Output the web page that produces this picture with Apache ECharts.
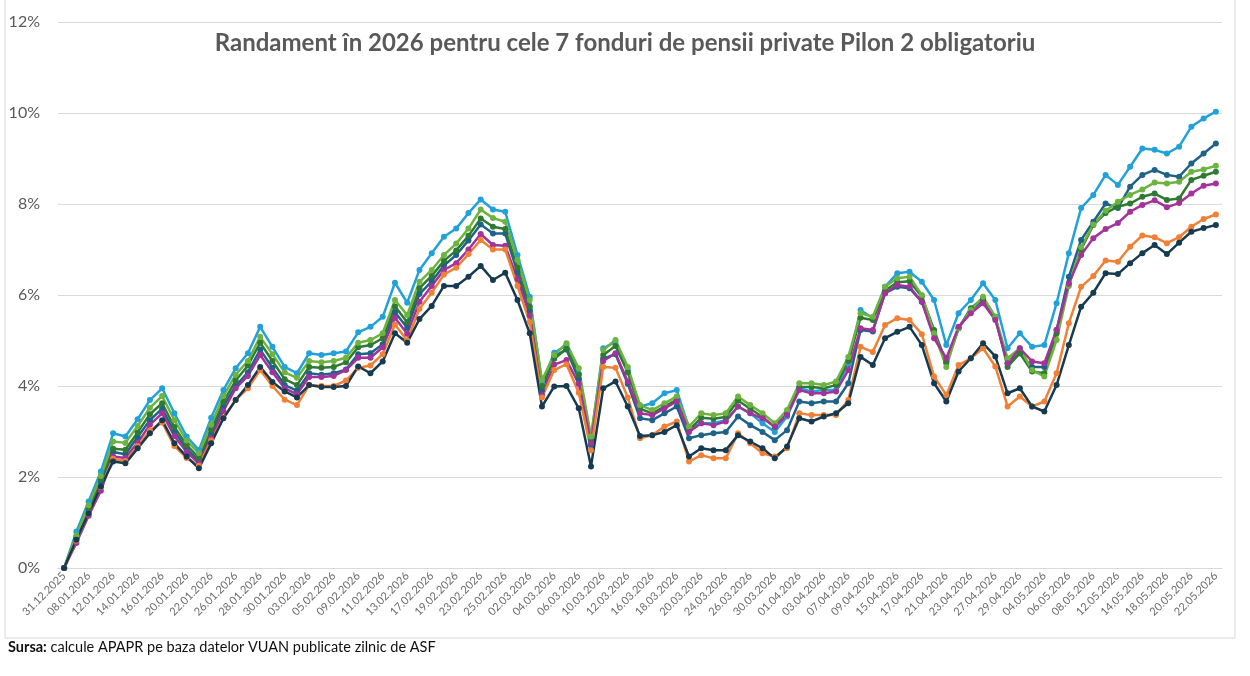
<!DOCTYPE html>
<html>
<head>
<meta charset="utf-8">
<script src="https://cdn.jsdelivr.net/npm/echarts@6/dist/echarts.min.js"></script>
<style>
  html, body { margin: 0; padding: 0; background: #fff; }
  #chart { width: 1250px; height: 676px; }
</style>
</head>
<body>
<div id="chart"></div>
<script>
// zile de raportare (etichetele apar din doua in doua)
const dates = [
  '31.12.2025','05.01.2026','08.01.2026','09.01.2026','12.01.2026','13.01.2026','14.01.2026','15.01.2026',
  '16.01.2026','19.01.2026','20.01.2026','21.01.2026','22.01.2026','23.01.2026','26.01.2026','27.01.2026',
  '28.01.2026','29.01.2026','30.01.2026','02.02.2026','03.02.2026','04.02.2026','05.02.2026','06.02.2026',
  '09.02.2026','10.02.2026','11.02.2026','12.02.2026','13.02.2026','16.02.2026','17.02.2026','18.02.2026',
  '19.02.2026','20.02.2026','23.02.2026','24.02.2026','25.02.2026','27.02.2026','02.03.2026','03.03.2026',
  '04.03.2026','05.03.2026','06.03.2026','09.03.2026','10.03.2026','11.03.2026','12.03.2026','13.03.2026',
  '16.03.2026','17.03.2026','18.03.2026','19.03.2026','20.03.2026','23.03.2026','24.03.2026','25.03.2026',
  '26.03.2026','27.03.2026','30.03.2026','31.03.2026','01.04.2026','02.04.2026','03.04.2026','06.04.2026',
  '07.04.2026','08.04.2026','09.04.2026','14.04.2026','15.04.2026','16.04.2026','17.04.2026','20.04.2026',
  '21.04.2026','22.04.2026','23.04.2026','24.04.2026','27.04.2026','28.04.2026','29.04.2026','30.04.2026',
  '04.05.2026','05.05.2026','06.05.2026','07.05.2026','08.05.2026','11.05.2026','12.05.2026','13.05.2026',
  '14.05.2026','15.05.2026','18.05.2026','19.05.2026','20.05.2026','21.05.2026','22.05.2026'
];

// randament cumulat, %
const lightBlue = [
  0, 0.80, 1.46, 2.12, 2.96, 2.89, 3.27, 3.69, 3.95, 3.40, 2.89, 2.59, 3.30, 3.91, 4.39, 4.72, 5.30, 4.86, 4.42, 4.28, 4.72, 4.68, 4.72, 4.76,
  5.18, 5.30, 5.52, 6.27, 5.83, 6.55, 6.92, 7.28, 7.46, 7.80, 8.10, 7.88, 7.83, 6.88, 5.96, 4.06, 4.73, 4.90, 4.27, 2.85, 4.83, 4.97, 4.35, 3.55,
  3.62, 3.84, 3.91, 3.07, 3.18, 3.18, 3.25, 3.55, 3.40, 3.18, 2.99, 3.33, 3.95, 3.88, 3.91, 3.91, 4.50, 5.67, 5.49, 6.18, 6.48, 6.51, 6.29,
  5.89, 4.90, 5.60, 5.89, 6.26, 5.89, 4.83, 5.16, 4.86, 4.90, 5.82, 6.92, 7.91, 8.20, 8.64, 8.42, 8.82, 9.22, 9.19, 9.11, 9.26, 9.70, 9.88, 10.03
];
const steelBlue = [
  0, 0.66, 1.28, 1.90, 2.55, 2.50, 2.88, 3.25, 3.50, 3.00, 2.62, 2.35, 2.95, 3.55, 4.00, 4.30, 4.80, 4.40, 4.02, 3.90, 4.28, 4.25, 4.28, 4.36,
  4.70, 4.72, 4.92, 5.62, 5.28, 6.02, 6.30, 6.65, 6.88, 7.20, 7.55, 7.35, 7.35, 6.50, 5.65, 3.90, 4.65, 4.80, 4.15, 2.70, 4.60, 4.70, 4.05, 3.29,
  3.25, 3.40, 3.55, 2.85, 2.92, 2.96, 2.99, 3.33, 3.14, 2.99, 2.81, 3.03, 3.66, 3.62, 3.66, 3.66, 4.06, 5.23, 5.20, 6.04, 6.18, 6.15, 5.85,
  5.16, 4.54, 5.27, 5.67, 5.89, 5.49, 4.50, 4.72, 4.42, 4.42, 5.23, 6.40, 7.21, 7.61, 8.01, 7.91, 8.38, 8.64, 8.75, 8.64, 8.60, 8.89, 9.11, 9.33
];
const darkGreen = [
  0, 0.68, 1.32, 1.95, 2.62, 2.60, 2.98, 3.38, 3.62, 3.10, 2.70, 2.42, 3.05, 3.65, 4.12, 4.45, 4.95, 4.55, 4.15, 4.02, 4.42, 4.40, 4.42, 4.52,
  4.85, 4.90, 5.05, 5.75, 5.40, 6.15, 6.42, 6.75, 6.98, 7.30, 7.68, 7.50, 7.45, 6.60, 5.75, 4.00, 4.60, 4.82, 4.25, 2.80, 4.68, 4.88, 4.30, 3.50,
  3.40, 3.55, 3.70, 3.03, 3.30, 3.28, 3.32, 3.68, 3.50, 3.32, 3.10, 3.40, 3.98, 3.98, 3.95, 4.02, 4.55, 5.50, 5.45, 6.10, 6.28, 6.30, 5.97,
  5.23, 4.50, 5.27, 5.71, 5.93, 5.52, 4.42, 4.72, 4.32, 4.28, 5.16, 6.25, 7.00, 7.54, 7.80, 7.94, 8.01, 8.16, 8.23, 8.09, 8.12, 8.53, 8.62, 8.71
];
const lightGreen = [
  0, 0.72, 1.38, 2.02, 2.78, 2.75, 3.12, 3.52, 3.78, 3.25, 2.80, 2.52, 3.15, 3.78, 4.25, 4.55, 5.08, 4.70, 4.30, 4.18, 4.55, 4.52, 4.55, 4.62,
  4.95, 5.01, 5.16, 5.89, 5.56, 6.29, 6.55, 6.88, 7.13, 7.46, 7.88, 7.69, 7.61, 6.77, 5.89, 4.13, 4.68, 4.94, 4.39, 2.89, 4.79, 5.01, 4.42, 3.58,
  3.47, 3.62, 3.77, 3.11, 3.40, 3.36, 3.40, 3.77, 3.58, 3.40, 3.18, 3.47, 4.06, 4.06, 4.02, 4.10, 4.64, 5.60, 5.52, 6.18, 6.37, 6.40, 6.00,
  5.16, 4.42, 5.27, 5.67, 5.96, 5.52, 4.61, 4.83, 4.35, 4.21, 5.01, 6.20, 7.05, 7.55, 7.85, 8.05, 8.20, 8.32, 8.47, 8.45, 8.49, 8.71, 8.76, 8.84
];
const magenta = [
  0, 0.55, 1.15, 1.70, 2.45, 2.42, 2.75, 3.15, 3.40, 2.90, 2.55, 2.30, 2.85, 3.45, 3.95, 4.22, 4.68, 4.30, 3.95, 3.82, 4.20, 4.20, 4.22, 4.35,
  4.62, 4.62, 4.85, 5.50, 5.15, 5.85, 6.20, 6.55, 6.70, 7.00, 7.34, 7.10, 7.08, 6.35, 5.55, 3.80, 4.47, 4.57, 4.05, 2.74, 4.55, 4.72, 4.10, 3.40,
  3.36, 3.51, 3.66, 2.99, 3.18, 3.14, 3.22, 3.55, 3.40, 3.29, 3.11, 3.36, 3.91, 3.84, 3.84, 3.88, 4.35, 5.27, 5.23, 6.04, 6.22, 6.18, 5.85,
  5.05, 4.61, 5.30, 5.60, 5.82, 5.45, 4.50, 4.83, 4.54, 4.50, 5.23, 6.25, 6.88, 7.25, 7.45, 7.58, 7.83, 7.98, 8.08, 7.93, 8.02, 8.23, 8.40, 8.45
];
const orange = [
  0, 0.60, 1.20, 1.78, 2.40, 2.35, 2.68, 3.02, 3.20, 2.68, 2.42, 2.25, 2.80, 3.30, 3.70, 3.95, 4.35, 4.00, 3.70, 3.58, 4.02, 4.00, 4.00, 4.12,
  4.40, 4.45, 4.70, 5.35, 5.00, 5.70, 6.05, 6.45, 6.60, 6.90, 7.21, 7.00, 7.00, 6.20, 5.40, 3.75, 4.35, 4.48, 3.85, 2.59, 4.42, 4.40, 3.75, 2.85,
  2.92, 3.11, 3.22, 2.34, 2.48, 2.41, 2.41, 2.96, 2.74, 2.52, 2.45, 2.63, 3.40, 3.36, 3.36, 3.36, 3.69, 4.86, 4.75, 5.34, 5.49, 5.45, 5.14,
  4.21, 3.80, 4.46, 4.61, 4.83, 4.43, 3.55, 3.77, 3.55, 3.66, 4.28, 5.38, 6.18, 6.42, 6.76, 6.73, 7.06, 7.31, 7.27, 7.14, 7.27, 7.50, 7.67, 7.77
];
const navy = [
  0, 0.62, 1.20, 1.79, 2.34, 2.30, 2.63, 2.96, 3.25, 2.74, 2.45, 2.19, 2.74, 3.29, 3.69, 4.02, 4.42, 4.09, 3.88, 3.75, 4.02, 3.98, 3.98, 4.00,
  4.43, 4.28, 4.54, 5.16, 4.95, 5.47, 5.76, 6.20, 6.20, 6.40, 6.64, 6.33, 6.49, 5.89, 5.16, 3.55, 3.99, 4.00, 3.51, 2.23, 3.95, 4.10, 3.55, 2.90,
  2.92, 2.99, 3.14, 2.45, 2.63, 2.59, 2.59, 2.92, 2.78, 2.63, 2.41, 2.67, 3.29, 3.22, 3.33, 3.40, 3.62, 4.64, 4.46, 5.05, 5.19, 5.30, 4.90,
  4.06, 3.66, 4.32, 4.61, 4.94, 4.65, 3.84, 3.95, 3.55, 3.44, 4.02, 4.90, 5.74, 6.05, 6.48, 6.46, 6.70, 6.92, 7.10, 6.90, 7.15, 7.39, 7.47, 7.54
];

const yTicks = [0, 2, 4, 6, 8, 10, 12];

const seriesList = [
  { name: 'f1', data: lightBlue, color: '#22a1d9' },
  { name: 'f2', data: steelBlue, color: '#1f6288' },
  { name: 'f3', data: darkGreen, color: '#2e7a30' },
  { name: 'f4', data: lightGreen, color: '#6db33f' },
  { name: 'f5', data: magenta, color: '#a3329a' },
  { name: 'f6', data: orange, color: '#f08035' },
  { name: 'f7', data: navy, color: '#163a50' }
];

const chart = echarts.init(document.getElementById('chart'));

chart.setOption({
  backgroundColor: '#fff',
  animation: false,
  title: {
    text: 'Randament în 2026 pentru cele 7 fonduri de pensii private Pilon 2 obligatoriu',
    left: 620,
    top: 26,
    textAlign: 'center',
    textStyle: {
      fontFamily: 'Lato',
      fontWeight: 'bold',
      fontSize: 24,
      color: '#595959'
    }
  },
  grid: { left: 58, right: 28, top: 22, bottom: 108 },
  xAxis: {
    type: 'category',
    data: dates,
    boundaryGap: true,
    axisLine: { lineStyle: { color: '#d9d9d9' } },
    axisTick: { show: false },
    axisLabel: {
      interval: 1,
      rotate: 45,
      margin: 6,
      fontFamily: 'Lato',
      fontSize: 11,
      color: '#6b6b6b'
    }
  },
  yAxis: {
    type: 'value',
    min: yTicks[0],
    max: yTicks[yTicks.length - 1],
    interval: 2,
    axisLine: { show: false },
    axisTick: { show: false },
    splitLine: { lineStyle: { color: '#d9d9d9', width: 1 } },
    axisLabel: {
      formatter: '{value}%',
      margin: 18,
      fontFamily: 'Lato',
      fontSize: 16,
      color: '#595959'
    }
  },
  series: seriesList.map(s => ({
    name: s.name,
    type: 'line',
    data: s.data,
    symbol: 'circle',
    symbolSize: 6,
    showAllSymbol: true,
    lineStyle: { width: 2.5, color: s.color },
    itemStyle: { color: s.color },
    emphasis: { disabled: true }
  })),
  graphic: [
    {
      type: 'rect',
      shape: { x: 5, y: -2, width: 1230, height: 640 },
      style: { fill: 'none', stroke: '#d9d9d9', lineWidth: 1 },
      silent: true
    },
    {
      type: 'text',
      left: 8,
      top: 640,
      style: {
        text: '{b|Sursa:} calcule APAPR pe baza datelor VUAN publicate zilnic de ASF',
        fontFamily: 'Lato',
        fontSize: 14.5,
        fill: '#111',
        rich: {
          b: { fontFamily: 'Lato', fontSize: 14.5, fontWeight: 'bold', fill: '#111' }
        }
      }
    }
  ]
});
</script>
</body>
</html>
